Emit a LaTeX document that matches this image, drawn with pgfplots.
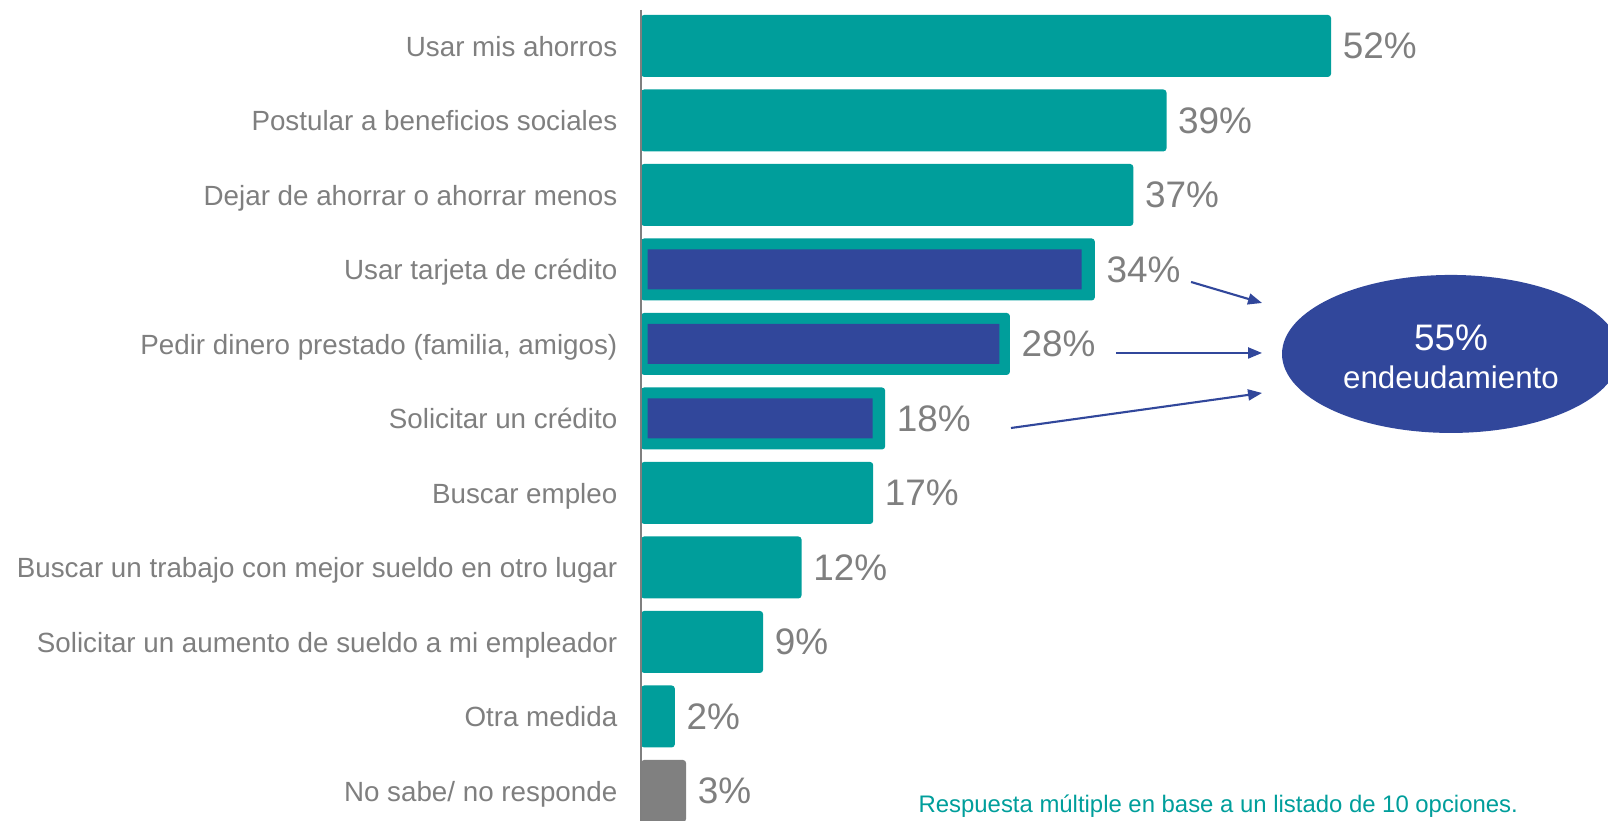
\documentclass[border=0pt]{standalone}
\usepackage{pgfplots}
\pgfplotsset{compat=1.18}
\usepackage{fontspec}
\setmainfont{Liberation Sans}
\usetikzlibrary{arrows.meta}
\definecolor{teal1}{RGB}{0,158,155}
\definecolor{blue1}{RGB}{49,71,155}
\definecolor{gtext}{RGB}{127,127,127}
\definecolor{gbar}{RGB}{128,128,128}
\pgfplotsset{
  base/.style={
    scale only axis, width=9.67cm, height=8.21cm,
    xmin=0, xmax=72.87, ymin=-0.617, ymax=10.403, y dir=reverse,
    axis lines*=left, axis line style={draw=none},
    xtick=\empty, major tick length=0pt, clip=false,
  }
}
\begin{document}
\begin{tikzpicture}
\begin{axis}[base,
  ytick={0,...,10},
  yticklabels={Usar mis ahorros, Postular a beneficios sociales, Dejar de ahorrar o ahorrar menos, Usar tarjeta de crédito, {Pedir dinero prestado (familia, amigos)}, Solicitar un crédito, Buscar empleo, Buscar un trabajo con mejor sueldo en otro lugar, Solicitar un aumento de sueldo a mi empleador, Otra medida, No sabe/ no responde},
  yticklabel style={font=\fontsize{7.9}{9}\selectfont, text=gtext, anchor=base east, inner sep=0pt, xshift=-0.23cm, yshift=-2.9pt},
  nodes near coords={\pgfplotspointmeta\%},
  nodes near coords style={font=\fontsize{10.5}{12}\selectfont, text=gtext, anchor=west, inner sep=0pt, xshift=0.11cm},
  point meta=explicit symbolic,
]
\addplot[xbar, bar width=0.62cm, bar shift=0pt, fill=teal1, draw=none, rounded corners=0.9pt]
  coordinates {(52,0) [52] (39.6,1) [39] (37.1,2) [37] (34.2,3) [34] (27.8,4) [28] (18.4,5) [18] (17.5,6) [17] (12.1,7) [12] (9.2,8) [9] (2.55,9) [2]};
\addplot[xbar, bar width=0.62cm, bar shift=0pt, fill=gbar, draw=none, rounded corners=0.9pt]
  coordinates {(3.4,10) [3]};
\draw[gtext, line width=0.55pt] (axis cs:0,-0.483) -- (axis cs:0,10.403);
\draw[blue1, line width=0.6pt, -{Triangle[length=1.4mm, width=1.1mm]}] (axis cs:41.45,3.168) -- (axis cs:46.8,3.45);
\draw[blue1, line width=0.6pt, -{Triangle[length=1.4mm, width=1.1mm]}] (axis cs:35.8,4.121) -- (axis cs:46.8,4.121);
\draw[blue1, line width=0.6pt, -{Triangle[length=1.4mm, width=1.1mm]}] (axis cs:27.88,5.128) -- (axis cs:46.8,4.658);
\fill[blue1] (axis cs:61.04,4.134) ellipse [x radius=1.69cm, y radius=0.79cm];
\node[white, font=\fontsize{10.5}{12}\selectfont] at (axis cs:61.04,3.919) {55\%};
\node[white, font=\fontsize{8.9}{10}\selectfont] at (axis cs:61.04,4.443) {endeudamiento};
\node[teal1, anchor=base west, inner sep=0pt, font=\fontsize{6.8}{8}\selectfont] at (axis cs:20.87,10.295) {Respuesta múltiple en base a un listado de 10 opciones.};
\end{axis}
\begin{axis}[base, hide axis, xbar stacked, bar width=0.4cm]
\addplot[draw=none, fill=none] coordinates {(0.5,3) (0.5,4) (0.5,5)};
\addplot[fill=blue1, draw=none] coordinates {(32.7,3) (26.5,4) (16.96,5)};
\end{axis}
\pgfresetboundingbox
\path[use as bounding box] (-6.41cm,0) rectangle (9.67cm,8.21cm);
\end{tikzpicture}
\end{document}
